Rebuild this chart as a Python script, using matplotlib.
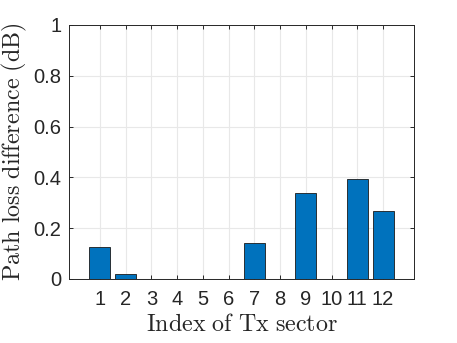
import matplotlib
matplotlib.use("Agg")
import matplotlib.pyplot as plt

sectors = list(range(1, 13))
loss_diff = [0.125, 0.018, 0.0, 0.0, 0.0, 0.0, 0.143, 0.0, 0.337, 0.0, 0.392, 0.266]
x_ticks = list(range(1, 13))
y_ticks = [0, 0.2, 0.4, 0.6, 0.8, 1]
y_tick_labels = ["0", "0.2", "0.4", "0.6", "0.8", "1"]

plt.rcParams['mathtext.fontset'] = 'cm'
plt.rcParams['font.family'] = ['Liberation Sans', 'DejaVu Sans']

fig = plt.figure(figsize=(4.57, 3.43), dpi=100)
ax = fig.add_axes([69/457, 1 - 279/343, (414 - 69)/457, (279 - 25)/343])

ax.bar(sectors, loss_diff, width=0.82, color='#0072BD', edgecolor='#1a1a1a',
       linewidth=0.6, zorder=3)

ax.set_xlim(-0.2, 13.2)
ax.set_ylim(0, 1)
ax.set_xticks(x_ticks)
ax.set_xticklabels([str(t) for t in x_ticks])
ax.set_yticks(y_ticks)
ax.set_yticklabels(y_tick_labels)

ax.grid(True, color='#e8e8e8', linewidth=0.8, zorder=0)
ax.set_axisbelow(True)

for s in ax.spines.values():
    s.set_color('#262626')
    s.set_linewidth(0.7)

ax.tick_params(axis='both', direction='in', length=3, width=0.7, colors='#262626',
               labelsize=14.5, top=True, right=True)
ax.tick_params(axis='x', pad=8)
ax.tick_params(axis='y', pad=5.5)
for lab in ax.get_xticklabels() + ax.get_yticklabels():
    lab.set_color('#262626')

ax.set_xlabel(r'$\mathrm{Index\ of\ Tx\ sector}$', fontsize=17.3, color='#262626', labelpad=3.5)
ax.set_ylabel(r'$\mathrm{Path\ loss\ difference\ (dB)}$', fontsize=17.3, color='#262626', labelpad=3)

fig.savefig('out.png', dpi=100)
